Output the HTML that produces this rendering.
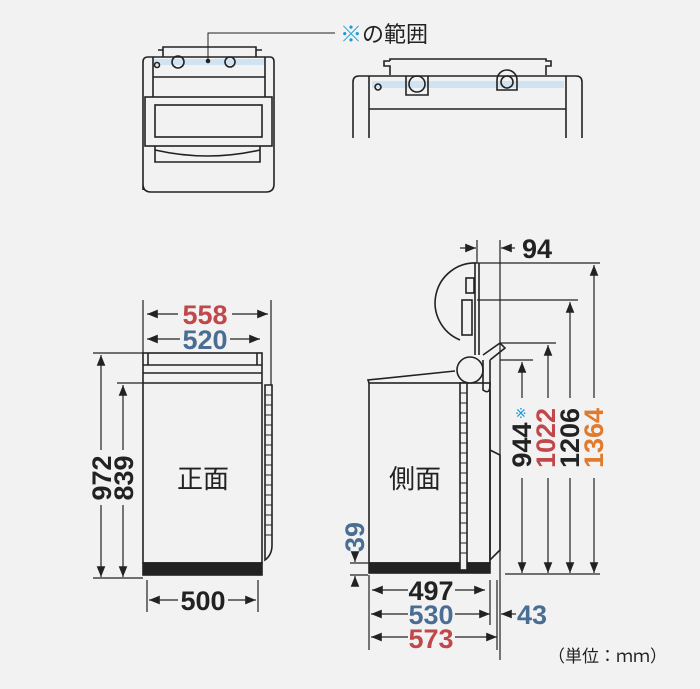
<!DOCTYPE html>
<html><head><meta charset="utf-8"><style>
html,body{margin:0;padding:0;background:#f2f2f2;}
svg{display:block}
.n{font-family:"Liberation Sans Narrow","Liberation Sans",sans-serif;font-weight:bold;font-size:27px;}
.j{font-family:"Liberation Sans","Noto Sans CJK JP",sans-serif;}
</style></head><body>
<svg width="700" height="689" viewBox="0 0 700 689" xmlns="http://www.w3.org/2000/svg">
<defs>
<marker id="a" viewBox="0 0 10 10" refX="10" refY="5" markerWidth="9" markerHeight="9" orient="auto-start-reverse"><path d="M0,1 L10,5 L0,9 z" fill="#222"/></marker>
</defs>
<rect width="700" height="689" fill="#f2f2f2"/>
<g fill="none" stroke="#222" stroke-width="1.6">
<rect x="153" y="59" width="112" height="6" fill="#cfe3f3" stroke="none"/>
<path d="M163,57 V50 H158 M163,50 V47 H256 V50 H262 M256,50 V57"/>
<path d="M143,190 V62 Q143,57 148,57 H270 Q274,57 274,62 V184 Q274,192 266,192 H151 Q143,192 143,184 Z" fill="none"/>
<path d="M153,57 V97 M265,57 V97 M153,77 H265"/>
<circle cx="178" cy="62" r="6"/><circle cx="230" cy="62" r="5"/><circle cx="157" cy="65" r="2.5"/>
<rect x="145" y="97" width="127" height="49"/>
<rect x="155" y="105" width="107" height="32"/>
<path d="M155,146 V162 H260 V146 M155,150 Q208,162 260,150"/>
<path d="M208,61 V33 H335" stroke-width="1"/>
<circle cx="208" cy="61" r="1.5" fill="#222"/>
<rect x="372" y="81" width="192" height="7" fill="#cfe3f3" stroke="none"/>
<path d="M390,75 V66 H384 V61 H390 M390,61 V59 H546 V61 H551 V66 H546 V75"/>
<path d="M353,138 V82 Q353,76 359,76 H576 Q582,76 582,82 V138"/>
<path d="M369,138 V76 M566,138 V76 M369,109 H566"/>
<path d="M406,76 V95 H428 V76"/><circle cx="417" cy="84" r="8"/>
<path d="M497,90 V80 A10,10 0 0 1 517,80 V90 Z"/><circle cx="507" cy="82" r="6"/>
<circle cx="378" cy="87" r="3"/>
<rect x="143" y="353" width="119" height="210" fill="#f2f2f2"/>
<path d="M143,365 H262 M143,373 H262 M143,383 H262"/>
<path d="M148,353 V365 M257,353 V365"/>
<rect x="143" y="563" width="119" height="12" fill="#222"/>
<path d="M265,385 V560 Q272,555 272,545 V385 Z"/>
<path d="M265,395 H272 M265,405 H272 M265,415 H272 M265,425 H272 M265,435 H272 M265,445 H272 M265,455 H272 M265,465 H272 M265,475 H272 M265,485 H272 M265,495 H272 M265,505 H272 M265,515 H272 M265,525 H272 M265,535 H272" stroke-width="1"/>
<path d="M369,383 L368,380 L455,371"/>
<rect x="369" y="383" width="121" height="180" fill="#f2f2f2"/>
<rect x="369" y="563" width="121" height="10" fill="#222"/>
<path d="M490,390 V560 L500,550 V455 L490,450"/>
<path d="M477,263 A40,40 0 0 0 460,340"/>
<path d="M475,263 V355 M479,263 V355" />
<circle cx="470" cy="370" r="13" fill="#f2f2f2"/>
<rect x="462" y="300" width="10" height="35"/><rect x="466" y="278" width="8" height="15"/>
<path d="M483,360 V390 Q490,395 490,385 V360 M483,355 L500,343 L505,348 L490,360"/>
<rect x="460" y="383" width="7" height="187" fill="#f2f2f2"/>
<path d="M460,393 H467 M460,403 H467 M460,413 H467 M460,423 H467 M460,433 H467 M460,443 H467 M460,453 H467 M460,463 H467 M460,473 H467 M460,483 H467 M460,493 H467 M460,503 H467 M460,513 H467 M460,523 H467 M460,533 H467 M460,543 H467 M460,553 H467" stroke-width="1"/>
</g>
<g stroke="#222" stroke-width="1.2" fill="none">
<path d="M143,300 V353 M271,300 V385 M93,353 H143 M117,383 H143 M93,578 H143 M147,580 V612 M258,580 V612"/>
<path d="M147,314 H178 M232,314 H268" marker-start="url(#a)" marker-end="url(#a)"/>
<path d="M147,339 H180 M230,339 H260" marker-start="url(#a)" marker-end="url(#a)"/>
<path d="M101,355 V450" marker-start="url(#a)"/><path d="M101,505 V577" marker-end="url(#a)"/>
<path d="M123,385 V450" marker-start="url(#a)"/><path d="M123,505 V577" marker-end="url(#a)"/>
<path d="M149,600 H178 M228,600 H256" marker-start="url(#a)" marker-end="url(#a)"/>
<path d="M477,240 V263 M500,240 V660 M369,575 V650 M497,580 V650 M490,580 V625"/>
<path d="M460,248 H476" marker-end="url(#a)"/><path d="M515,248 H501" marker-end="url(#a)"/>
<path d="M516,614 H501" marker-end="url(#a)"/>
<path d="M477,263 H600 M477,300 H578 M500,343 H556 M500,360 H533 M505,574 H600"/>
<path d="M522,362 V398" marker-start="url(#a)"/><path d="M522,478 V573" marker-end="url(#a)"/>
<path d="M548,345 V398" marker-start="url(#a)"/><path d="M548,478 V573" marker-end="url(#a)"/>
<path d="M570,302 V398" marker-start="url(#a)"/><path d="M570,478 V573" marker-end="url(#a)"/>
<path d="M594,265 V398" marker-start="url(#a)"/><path d="M594,478 V573" marker-end="url(#a)"/>
<path d="M372,590 H408 M455,590 H485" marker-start="url(#a)" marker-end="url(#a)"/>
<path d="M371,614 H408 M455,614 H490" marker-start="url(#a)" marker-end="url(#a)"/>
<path d="M371,637 H408 M455,637 H497" marker-start="url(#a)" marker-end="url(#a)"/>
<path d="M350,563 H368 M350,575 H368"/><path d="M355,555 V562" marker-end="url(#a)"/><path d="M355,586 V576" marker-end="url(#a)"/>
</g>
<text x="340" y="42" class="j" font-size="22" fill="#1a9ad6">※<tspan fill="#222">の範囲</tspan></text>
<text x="205" y="324" class="n" text-anchor="middle" fill="#c0474a">558</text>
<text x="205" y="349" class="n" text-anchor="middle" fill="#4a6e93">520</text>
<text x="203" y="610" class="n" text-anchor="middle" fill="#222">500</text>
<text transform="translate(111,478) rotate(-90)" class="n" text-anchor="middle" fill="#222">972</text>
<text transform="translate(133,478) rotate(-90)" class="n" text-anchor="middle" fill="#222">839</text>
<text x="203" y="488" class="j" font-size="26" text-anchor="middle" fill="#222">正面</text>
<text x="415" y="488" class="j" font-size="26" text-anchor="middle" fill="#222">側面</text>
<text x="522" y="258" class="n" fill="#222">94</text>
<text x="431" y="600" class="n" text-anchor="middle" fill="#222">497</text>
<text x="431" y="624" class="n" text-anchor="middle" fill="#4a6e93">530</text>
<text x="431" y="648" class="n" text-anchor="middle" fill="#c0474a">573</text>
<text x="517" y="624" class="n" fill="#4a6e93">43</text>
<text transform="translate(364,537) rotate(-90)" class="n" text-anchor="middle" fill="#4a6e93">39</text>
<text x="515" y="418" font-family="Liberation Sans,sans-serif" font-size="14" fill="#1a9ad6">※</text>
<text transform="translate(531,445) rotate(-90)" class="n" text-anchor="middle" fill="#222">944</text>
<text transform="translate(555,438) rotate(-90)" class="n" text-anchor="middle" fill="#c0474a">1022</text>
<text transform="translate(579,438) rotate(-90)" class="n" text-anchor="middle" fill="#222">1206</text>
<text transform="translate(603,438) rotate(-90)" class="n" text-anchor="middle" fill="#e07a2c">1364</text>
<text x="548" y="662" class="j" font-size="17" fill="#222">（単位：ｍｍ）</text>
</svg>
</body></html>
